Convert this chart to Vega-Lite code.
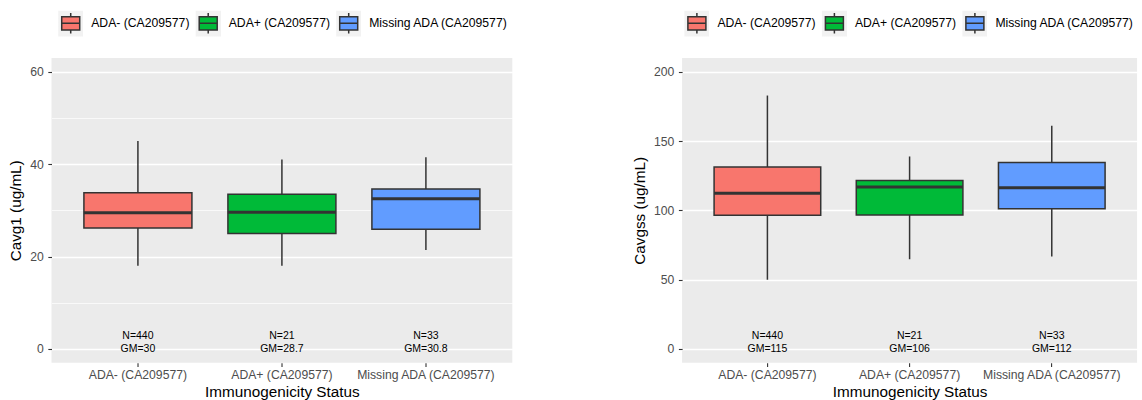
{
  "$schema": "https://vega.github.io/schema/vega-lite/v6.json",
  "background": "white",
  "padding": {"left": 8.5, "top": 10, "right": 0, "bottom": 0},
  "config": {
    "font": "Liberation Sans",
    "view": {"fill": "#EBEBEB", "stroke": null},
    "axis": {
      "domain": false,
      "labelFont": "Liberation Sans",
      "labelFontSize": 12.2,
      "labelColor": "#4D4D4D",
      "titleFont": "Liberation Sans",
      "titleFontSize": 15.3,
      "titleFontWeight": "normal",
      "titleColor": "#000000",
      "tickColor": "#333333",
      "tickSize": 3.7,
      "tickWidth": 1.1,
      "gridColor": "#FFFFFF",
      "gridOpacity": 1
    },
    "legend": {
      "labelFont": "Liberation Sans",
      "labelFontSize": 12.2,
      "labelColor": "#000000",
      "padding": 0,
      "labelOffset": 8,
      "columnPadding": 5.5,
      "symbolSize": 552,
      "symbolType": "M-0.766,-0.566H0.766V0.566H-0.766Z M-0.766,0H0.766 M0,-0.566V-0.877 M0,0.566V0.877",
      "symbolStrokeColor": "#333333",
      "symbolStrokeWidth": 1.5,
      "symbolOpacity": 1
    }
  },
  "datasets": {
    "cavg1": [
      {"group": "ADA- (CA209577)", "lower": 18.0, "q1": 26.2, "median": 29.5, "q3": 33.8, "upper": 45.0, "label": "N=440\nGM=30"},
      {"group": "ADA+ (CA209577)", "lower": 18.0, "q1": 25.0, "median": 29.6, "q3": 33.5, "upper": 41.0, "label": "N=21\nGM=28.7"},
      {"group": "Missing ADA (CA209577)", "lower": 21.4, "q1": 25.9, "median": 32.5, "q3": 34.6, "upper": 41.5, "label": "N=33\nGM=30.8"}
    ],
    "cavgss": [
      {"group": "ADA- (CA209577)", "lower": 49.9, "q1": 96.5, "median": 112.4, "q3": 131.3, "upper": 182.9, "label": "N=440\nGM=115"},
      {"group": "ADA+ (CA209577)", "lower": 64.7, "q1": 96.7, "median": 116.8, "q3": 121.6, "upper": 138.9, "label": "N=21\nGM=106"},
      {"group": "Missing ADA (CA209577)", "lower": 66.6, "q1": 101.1, "median": 116.3, "q3": 134.6, "upper": 161.1, "label": "N=33\nGM=112"}
    ]
  },
  "spacing": 169.6,
  "bounds": "flush",
  "resolve": {
    "scale": {"fill": "independent", "y": "independent"},
    "legend": {"fill": "independent"}
  },
  "hconcat": [
    {
      "width": 460.8,
      "height": 304.7,
      "data": {"name": "cavg1"},
      "encoding": {
        "x": {
          "field": "group",
          "type": "nominal",
          "sort": null,
          "scale": {"paddingInner": 0.25, "paddingOuter": 0.225},
          "axis": {
            "title": "Immunogenicity Status",
            "titlePadding": 4,
            "labelAngle": 0,
            "labelPadding": 2,
            "labelOverlap": false,
            "bandPosition": 0.5,
            "gridWidth": 1.4
          }
        }
      },
      "layer": [
        {
          "mark": {"type": "rule", "color": "#333333", "strokeWidth": 1.5},
          "encoding": {
            "y": {
              "field": "lower",
              "type": "quantitative",
              "scale": {"domain": [-3, 63], "nice": false, "zero": false},
              "axis": {
                "title": "Cavg1 (ug/mL)",
                "titlePadding": 6,
                "labelPadding": 4.5,
                "values": [0, 10, 20, 30, 40, 50, 60],
                "labelExpr": "datum.value % 20 === 0 ? datum.label : ''",
                "tickOpacity": {"condition": {"test": "datum.value % 20 === 0", "value": 1}, "value": 0},
                "gridWidth": {"condition": {"test": "datum.value % 20 === 0", "value": 1.4}, "value": 0.7}
              }
            },
            "y2": {"field": "upper"}
          }
        },
        {
          "mark": {"type": "bar", "stroke": "#333333", "strokeWidth": 1.5},
          "encoding": {
            "y": {"field": "q1", "type": "quantitative", "title": "Cavg1 (ug/mL)"},
            "y2": {"field": "q3"},
            "fill": {
              "field": "group",
              "type": "nominal",
              "sort": null,
              "scale": {"range": ["#F8766D", "#00BA38", "#619CFF"]},
              "legend": {
                "title": null,
                "orient": "none",
                "direction": "horizontal",
                "legendX": 6.7,
                "legendY": -47.3,
                "encode": {"entries": {"update": {"fill": {"signal": "{gradient: 'linear', x1: 0, y1: 0, x2: 1, y2: 0, stops: [{offset: 0, color: '#F2F2F2'}, {offset: [0.1904, 0.186, 0.1453][datum.index], color: '#F2F2F2'}, {offset: [0.1904, 0.186, 0.1453][datum.index], color: 'rgba(255,255,255,0)'}, {offset: 1, color: 'rgba(255,255,255,0)'}]}"}}}}
              }
            }
          }
        },
        {
          "mark": {"type": "tick", "orient": "horizontal", "color": "#333333", "size": 108, "thickness": 3, "opacity": 1},
          "encoding": {
            "y": {"field": "median", "type": "quantitative", "title": "Cavg1 (ug/mL)"}
          }
        },
        {
          "mark": {"type": "text", "fontSize": 10.5, "color": "#000000", "lineBreak": "\n", "lineHeight": 13.3, "baseline": "middle", "dy": -13},
          "encoding": {
            "y": {"datum": 0, "type": "quantitative", "title": "Cavg1 (ug/mL)"},
            "text": {"field": "label"}
          }
        }
      ]
    },
    {
      "width": 455,
      "height": 304.7,
      "data": {"name": "cavgss"},
      "encoding": {
        "x": {
          "field": "group",
          "type": "nominal",
          "sort": null,
          "scale": {"paddingInner": 0.25, "paddingOuter": 0.225},
          "axis": {
            "title": "Immunogenicity Status",
            "titlePadding": 4,
            "labelAngle": 0,
            "labelPadding": 2,
            "labelOverlap": false,
            "bandPosition": 0.5,
            "gridWidth": 1.4
          }
        }
      },
      "layer": [
        {
          "mark": {"type": "rule", "color": "#333333", "strokeWidth": 1.5},
          "encoding": {
            "y": {
              "field": "lower",
              "type": "quantitative",
              "scale": {"domain": [-10, 210], "nice": false, "zero": false},
              "axis": {
                "title": "Cavgss (ug/mL)",
                "titlePadding": 6,
                "labelPadding": 4.5,
                "values": [0, 25, 50, 75, 100, 125, 150, 175, 200],
                "labelExpr": "datum.value % 50 === 0 ? datum.label : ''",
                "tickOpacity": {"condition": {"test": "datum.value % 50 === 0", "value": 1}, "value": 0},
                "gridWidth": {"condition": {"test": "datum.value % 50 === 0", "value": 1.4}, "value": 0.7}
              }
            },
            "y2": {"field": "upper"}
          }
        },
        {
          "mark": {"type": "bar", "stroke": "#333333", "strokeWidth": 1.5},
          "encoding": {
            "y": {"field": "q1", "type": "quantitative", "title": "Cavgss (ug/mL)"},
            "y2": {"field": "q3"},
            "fill": {
              "field": "group",
              "type": "nominal",
              "sort": null,
              "scale": {"range": ["#F8766D", "#00BA38", "#619CFF"]},
              "legend": {
                "title": null,
                "orient": "none",
                "direction": "horizontal",
                "legendX": 2.3,
                "legendY": -47.3,
                "encode": {"entries": {"update": {"fill": {"signal": "{gradient: 'linear', x1: 0, y1: 0, x2: 1, y2: 0, stops: [{offset: 0, color: '#F2F2F2'}, {offset: [0.1904, 0.186, 0.1453][datum.index], color: '#F2F2F2'}, {offset: [0.1904, 0.186, 0.1453][datum.index], color: 'rgba(255,255,255,0)'}, {offset: 1, color: 'rgba(255,255,255,0)'}]}"}}}}
              }
            }
          }
        },
        {
          "mark": {"type": "tick", "orient": "horizontal", "color": "#333333", "size": 106.6, "thickness": 3, "opacity": 1},
          "encoding": {
            "y": {"field": "median", "type": "quantitative", "title": "Cavgss (ug/mL)"}
          }
        },
        {
          "mark": {"type": "text", "fontSize": 10.5, "color": "#000000", "lineBreak": "\n", "lineHeight": 13.3, "baseline": "middle", "dy": -13},
          "encoding": {
            "y": {"datum": 0, "type": "quantitative", "title": "Cavgss (ug/mL)"},
            "text": {"field": "label"}
          }
        }
      ]
    }
  ]
}
